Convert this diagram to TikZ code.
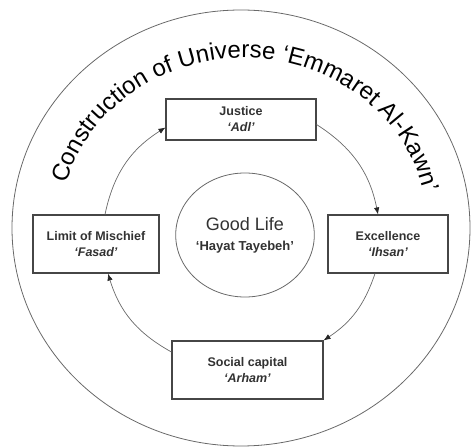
\documentclass[tikz,border=0pt]{standalone}
\usepackage{fontspec}
\setmainfont{Liberation Sans}
\usetikzlibrary{arrows.meta,decorations.text,shapes.geometric}
\definecolor{linegray}{RGB}{105,105,105}
\definecolor{boxgray}{RGB}{70,70,70}
\definecolor{textgray}{RGB}{50,50,50}

\begin{document}
\begin{tikzpicture}[x=1pt,y=1pt,
  stage/.style={draw=boxgray,line width=1.1pt,minimum height=58pt,inner sep=2pt,
    align=center,text=textgray,font=\fontsize{12.5}{16}\selectfont\bfseries},
  goodlife/.style={ellipse,draw=linegray,line width=0.8pt,minimum width=129pt,
    minimum height=124pt,inner sep=0pt,align=center,text=textgray,
    font=\fontsize{13}{16}\selectfont\bfseries},
  flow/.style={draw=linegray,line width=0.7pt,-{Latex[length=7pt,width=5.5pt,color=black!85]}}]
  \useasboundingbox (0,0) rectangle (471,447);
  \draw[linegray,line width=0.8pt] (241,219) ellipse [x radius=229,y radius=218];
  \path[decorate,decoration={text along path,text align=fit to path,
      text={|\fontsize{24}{24}\selectfont|Construction of Universe `Emmaret Al-Kawn'}}]
    (244,219) ++(165:184 and 170) arc[start angle=165,end angle=12,x radius=184,y radius=170];
  \node[goodlife] (gl) at (245,212)
    {{\fontsize{18}{18}\selectfont\mdseries Good Life}\\[4pt]`Hayat Tayebeh'};
  \node[stage,minimum width=150pt,minimum height=41pt] (jus) at (241,327.5)
    {Justice\\\textit{`Adl'}};
  \node[stage,minimum width=126pt] (lim) at (96,203) {Limit of Mischief\\\textit{`Fasad'}};
  \node[stage,minimum width=120pt] (exc) at (388,203) {Excellence\\\textit{`Ihsan'}};
  \node[stage,minimum width=151pt] (soc) at (247.5,77) {Social capital\\\textit{`Arham'}};
  \draw[flow] ([xshift=9pt]lim.north) to[bend left=23] ([yshift=-8pt]jus.west);
  \draw[flow] ([yshift=-5pt]jus.east) to[bend left=23] ([xshift=-10pt]exc.north);
  \draw[flow] ([xshift=-13pt]exc.south) to[bend left=19] (soc.north east);
  \draw[flow] ([yshift=18pt]soc.west) to[bend left=22] ([xshift=12pt]lim.south);
\end{tikzpicture}
\end{document}
